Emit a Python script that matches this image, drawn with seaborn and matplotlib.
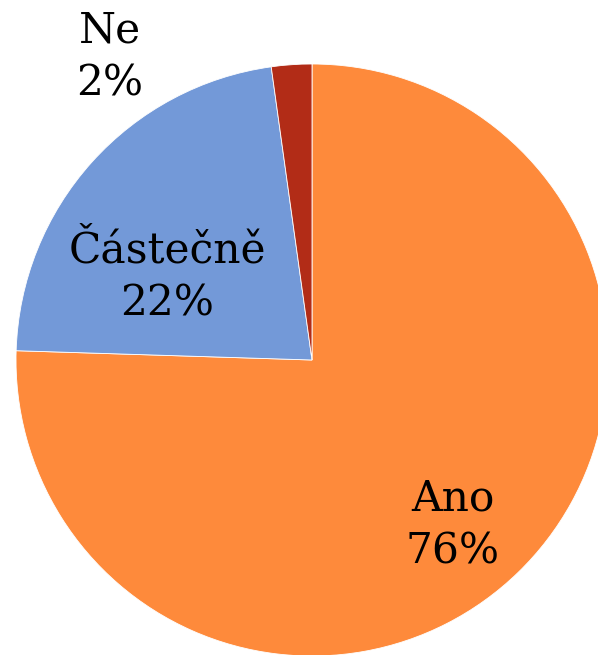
import matplotlib
matplotlib.use("Agg")
import matplotlib.pyplot as plt
import seaborn as sns

# ── Data ──────────────────────────────────────────────────────────
categories = ["Ano", "Částečně", "Ne"]
shares = [75.5, 22.3, 2.2]
pct_labels = ["76%", "22%", "2%"]
colors = ["#FE8A3B", "#7399D8", "#B22C17"]

sns.set_theme(style="white")
plt.rcParams["font.family"] = ["DejaVu Serif"]

fig = plt.figure(figsize=(5.98, 6.55), dpi=100)
ax = fig.add_axes([0, 0, 1, 1])

ax.pie(
    shares, colors=colors, startangle=90, counterclock=False,
    radius=1.0, wedgeprops=dict(edgecolor="white", linewidth=0.6),
)

# label placement (data units, pie radius = 1)
label_pos = {"Ano": (0.476, -0.557), "Částečně": (-0.49, 0.28), "Ne": (-0.682, 1.024)}
for cat, pct in zip(categories, pct_labels):
    x, y = label_pos[cat]
    ax.text(x, y, f"{cat}\n{pct}", ha="center", va="center",
            fontsize=30.5, color="black", linespacing=1.35)

ax.set_xlim(-312 / 296, (598 - 312) / 296)
ax.set_ylim(-(655 - 360) / 296, 360 / 296)
ax.set_aspect("auto")
ax.axis("off")

fig.savefig("out.png", dpi=100)
